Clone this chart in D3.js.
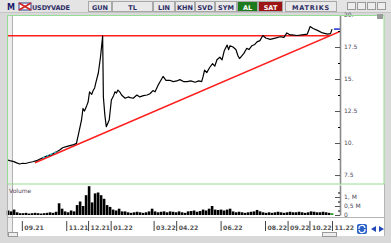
<!DOCTYPE html>
<html>
<head>
<meta charset="utf-8">
<script src="https://cdnjs.cloudflare.com/ajax/libs/d3/7.8.5/d3.min.js"></script>
<style>
  body { margin: 0; background: #d9d9d9; }
  svg { display: block; }
  text { font-family: "DejaVu Sans", Verdana, sans-serif; }
</style>
</head>
<body>
<div class="chart"></div>
<script>
// USDYVADE price chart with volume panel

// Price series (close)
var priceDates = [
  "2021-08-13", "2021-08-17", "2021-08-21", "2021-08-25", "2021-08-29", "2021-09-02",
  "2021-09-06", "2021-09-11", "2021-09-16", "2021-09-21", "2021-09-26", "2021-09-30",
  "2021-10-05", "2021-10-09", "2021-10-12", "2021-10-16", "2021-10-19", "2021-10-23",
  "2021-10-27", "2021-11-01", "2021-11-06", "2021-11-10", "2021-11-15", "2021-11-19",
  "2021-11-22", "2021-11-24", "2021-11-26", "2021-11-29", "2021-12-01", "2021-12-03",
  "2021-12-06", "2021-12-08", "2021-12-10", "2021-12-12", "2021-12-15", "2021-12-18",
  "2021-12-21", "2021-12-22", "2021-12-24", "2021-12-26", "2021-12-30", "2022-01-02",
  "2022-01-05", "2022-01-07", "2022-01-09", "2022-01-11", "2022-01-14", "2022-01-16",
  "2022-01-19", "2022-01-21", "2022-01-25", "2022-01-28", "2022-02-01", "2022-02-06",
  "2022-02-10", "2022-02-15", "2022-02-20", "2022-02-24", "2022-02-28", "2022-03-03",
  "2022-03-07", "2022-03-10", "2022-03-14", "2022-03-18", "2022-03-23", "2022-03-28",
  "2022-04-02", "2022-04-06", "2022-04-11", "2022-04-16", "2022-04-21", "2022-04-27",
  "2022-05-02", "2022-05-06", "2022-05-08", "2022-05-10", "2022-05-13", "2022-05-17",
  "2022-05-21", "2022-05-24", "2022-05-27", "2022-05-31", "2022-06-03", "2022-06-06",
  "2022-06-10", "2022-06-12", "2022-06-14", "2022-06-18", "2022-06-22", "2022-06-25",
  "2022-06-27", "2022-07-03", "2022-07-07", "2022-07-10", "2022-07-14", "2022-07-18",
  "2022-07-21", "2022-07-25", "2022-07-29", "2022-08-02", "2022-08-08", "2022-08-15",
  "2022-08-22", "2022-08-27", "2022-08-31", "2022-09-04", "2022-09-07", "2022-09-14",
  "2022-09-21", "2022-09-28", "2022-10-02", "2022-10-06", "2022-10-12", "2022-10-19",
  "2022-10-26", "2022-10-30", "2022-11-01"
];
var priceValues = [
  8.67, 8.6, 8.55, 8.45, 8.36, 8.42,
  8.40, 8.48, 8.54, 8.62, 8.75, 8.85,
  8.98, 9.05, 9.10, 9.25, 9.32, 9.45,
  9.63, 9.72, 9.80, 9.85, 9.97, 11.0,
  11.8, 12.7, 12.5, 12.9, 13.2, 14.0,
  13.8, 14.1, 14.3, 14.8, 15.45, 16.7,
  18.35, 13.6, 12.2, 11.27, 11.8, 13.36,
  13.7, 14.0, 13.9, 14.14, 13.95, 13.75,
  13.6, 13.5, 13.6, 13.55, 13.5, 13.75,
  13.6, 13.7, 13.75, 13.85, 14.1, 14.0,
  14.5, 14.8, 15.2, 14.9, 14.9, 14.8,
  14.85, 14.95, 14.8, 14.8, 14.85, 14.75,
  14.85, 14.8, 15.2, 15.7, 15.5, 15.9,
  16.2, 16.0, 16.5, 16.7, 16.5, 17.2,
  17.65, 17.3, 17.6, 17.5, 17.3, 16.8,
  16.6, 17.0, 17.4, 17.3, 17.6, 17.7,
  17.9, 18.0, 18.4, 18.2, 18.1, 18.2,
  18.3, 18.25, 18.6, 18.45, 18.45, 18.4,
  18.45, 18.5, 19.1, 18.95, 18.8, 18.6,
  18.5, 18.55, 18.9
];

// Volume (millions), one bar per ~4 days from the first to the last session
var volumeStart = "2021-08-13";
var volumeEnd = "2022-11-01";
var volumeValues = [
  0.25, 0.2, 0.3, 0.15, 0.1, 0.1, 0.12, 0.08, 0.1, 0.12,
  0.1, 0.08, 0.1, 0.12, 0.15, 0.12, 0.18, 0.65, 0.35, 0.2,
  0.15, 0.25, 0.2, 0.55, 0.75, 0.5, 1.1, 1.6, 0.7, 1.2,
  1.25, 1.1, 0.9, 0.55, 0.45, 0.3, 0.25, 0.35, 0.2, 0.2,
  0.15, 0.12, 0.15, 0.18, 0.15, 0.12, 0.15, 0.2, 0.35, 0.2,
  0.15, 0.18, 0.2, 0.15, 0.2, 0.18, 0.15, 0.2, 0.15, 0.12,
  0.2, 0.22, 0.25, 0.18, 0.22, 0.3, 0.25, 0.35, 0.5, 0.3,
  0.28, 0.3, 0.25, 0.3, 0.35, 0.2, 0.15, 0.18, 0.15, 0.12,
  0.15, 0.18, 0.2, 0.28, 0.2, 0.15, 0.12, 0.15, 0.12, 0.15,
  0.18, 0.15, 0.12, 0.15, 0.18, 0.15, 0.15, 0.18, 0.15, 0.12,
  0.15, 0.2, 0.18, 0.15, 0.15, 0.18, 0.15, 0.12, 0.1
];

// Drawn lines: horizontal resistance and rising trend
var resistanceDates = ["2021-08-13", "2022-10-29"];
var resistanceValue = 18.38;
var trendDates = ["2021-09-19", "2022-11-12"];
var trendValues = [8.46, 18.71];
var touchDates = ["2021-09-30", "2021-10-21"];

// Axis ticks
var monthTicks = ["2021-09-01", "2021-11-01", "2021-12-01", "2022-01-01", "2022-03-01",
  "2022-04-01", "2022-06-01", "2022-08-01", "2022-09-01", "2022-10-01", "2022-11-01"];
var priceTicks = [7.5, 10, 12.5, 15, 17.5, 20];
var priceTickLabels = ["7.5", "10.", "12.5", "15.", "17.5", "20."];
var priceMinorTicks = [8.75, 11.25, 13.75, 16.25, 18.75];
var volumeTicks = [0, 0.5, 1];
var volumeTickLabels = ["0", "0,5 M", "1, M"];
var volumeMinorTicks = [0.25, 0.75, 1.25];

var svgWidth = 391;
var svgHeight = 243;

var parseDate = d3.timeParse("%Y-%m-%d");

var svg = d3.select(".chart")
  .append("svg")
  .attr("width", svgWidth)
  .attr("height", svgHeight);

// ---- window frame ----
svg.append("rect").attr("width", svgWidth).attr("height", svgHeight).attr("fill", "#d9d9d9");
svg.append("rect").attr("x", 7).attr("y", 15).attr("width", 377).attr("height", 221).attr("fill", "#fff");
svg.append("rect").attr("x", 8).attr("y", 15).attr("width", 4).attr("height", 221).attr("fill", "#ececec");
svg.append("line").attr("x1", 12.5).attr("x2", 12.5).attr("y1", 15).attr("y2", 236)
  .attr("stroke", "#b0b0b0");

// ---- toolbar ----
svg.append("rect").attr("width", svgWidth).attr("height", 13).attr("fill", "#e4e4e4");
svg.append("line").attr("x1", 0).attr("x2", svgWidth).attr("y1", 12.5).attr("y2", 12.5).attr("stroke", "#c4c4c4");

var buttons = [
  { label: "GUN", x: 88, w: 24 },
  { label: "TL", x: 112, w: 41 },
  { label: "LIN", x: 153, w: 22 },
  { label: "KHN", x: 175, w: 20 },
  { label: "SVD", x: 195, w: 20 },
  { label: "SYM", x: 215, w: 22 },
  { label: "AL", x: 237, w: 21, fill: "#1d7a1d", color: "#fff" },
  { label: "SAT", x: 258, w: 25, fill: "#9c1414", color: "#fff" },
  { label: "MATRIKS", x: 285, w: 52 }
];
var btn = svg.selectAll(".btn").data(buttons).enter().append("g").attr("class", "btn");
btn.append("rect")
  .attr("x", d => d.x + 0.5).attr("y", 1.5)
  .attr("width", d => d.w - 1).attr("height", 10)
  .attr("fill", d => d.fill || "#e9e9e9")
  .attr("stroke", "#a8a8a8");
btn.append("text")
  .attr("x", d => d.x + d.w / 2).attr("y", 9.5)
  .attr("text-anchor", "middle")
  .attr("font-size", 6.5).attr("font-weight", "bold")
  .attr("letter-spacing", d => d.label === "MATRIKS" ? 0.8 : 0)
  .attr("fill", d => d.color || "#2e2e66")
  .text(d => d.label);

svg.append("text").attr("x", 7).attr("y", 10).attr("font-size", 8).attr("font-weight", "bold")
  .attr("fill", "#1c1c6c").text("M");
svg.append("rect").attr("x", 19).attr("y", 3).attr("width", 12).attr("height", 7).attr("fill", "#fff").attr("stroke", "#2a3a8a");
svg.append("path").attr("d", "M19,3 L31,10 M31,3 L19,10").attr("stroke", "#d02020").attr("stroke-width", 1.5);
svg.append("text").attr("x", 32).attr("y", 9.5).attr("font-size", 6.5).attr("font-weight", "bold")
  .attr("fill", "#2e2e66").attr("textLength", 38).text("USDYVADE");

[347, 357, 367, 377].forEach(function(bx) {
  svg.append("rect").attr("x", bx + 0.5).attr("y", 2.5).attr("width", 8).attr("height", 7)
    .attr("fill", "#ededed").attr("stroke", "#9a9a9a");
});

// ---- scales ----
var xScale = d3.scaleTime()
  .domain([parseDate("2021-08-13"), parseDate("2022-11-12")])
  .range([8, 340]);

var yScale = d3.scaleLinear()
  .domain([6.8, 20])
  .range([184, 15]);

var vScale = d3.scaleLinear()
  .domain([0, 1.667])
  .range([215, 185]);

// ---- price panel ----
svg.append("clipPath").attr("id", "plotClip")
  .append("rect").attr("x", 8).attr("y", 15).attr("width", 332).attr("height", 169);

var plot = svg.append("g").attr("clip-path", "url(#plotClip)");

var priceData = priceDates.map((d, i) => ({ date: parseDate(d), value: priceValues[i] }));

var line = d3.line()
  .x(d => xScale(d.date))
  .y(d => yScale(d.value));

plot.append("path")
  .datum(resistanceDates.map(d => ({ date: parseDate(d), value: resistanceValue })))
  .attr("d", line)
  .attr("fill", "none").attr("stroke", "#ff1e1e").attr("stroke-width", 1.5);

var trendData = trendDates.map((d, i) => ({ date: parseDate(d), value: trendValues[i] }));
plot.append("path")
  .datum(trendData)
  .attr("d", line)
  .attr("fill", "none").attr("stroke", "#ff1e1e").attr("stroke-width", 1.5);

plot.append("path")
  .datum(priceData)
  .attr("d", line)
  .attr("fill", "none").attr("stroke", "#000").attr("stroke-width", 1.2)
  .attr("stroke-linejoin", "round");

// cyan touch marks along the trend line
var trendY = d3.scaleTime().domain(trendData.map(d => d.date)).range(trendValues);
plot.append("path")
  .datum(touchDates.map(d => ({ date: parseDate(d), value: trendY(parseDate(d)) + 0.12 })))
  .attr("d", line)
  .attr("fill", "none").attr("stroke", "#22c8d8").attr("stroke-width", 1.3)
  .attr("stroke-dasharray", "2,2");

// last price marker
var last = priceData[priceData.length - 1];
svg.append("line")
  .attr("x1", xScale(last.date) + 2).attr("x2", 340)
  .attr("y1", yScale(last.value)).attr("y2", yScale(last.value))
  .attr("stroke", "#1a2fd0").attr("stroke-width", 1.5);

// price axis
var priceAxis = svg.append("g")
  .attr("transform", "translate(340, 0)")
  .call(d3.axisRight(yScale).tickValues(priceTicks).tickSize(-5).tickSizeOuter(0).tickPadding(4)
    .tickFormat((d, i) => priceTickLabels[i]));
svg.append("g")
  .attr("transform", "translate(340, 0)")
  .call(d3.axisRight(yScale).tickValues(priceMinorTicks).tickSize(-2).tickSizeOuter(0).tickFormat(""))
  .select(".domain").remove();

// ---- volume panel ----
var volStart = parseDate(volumeStart).getTime();
var volStep = (parseDate(volumeEnd).getTime() - volStart) / (volumeValues.length - 1);
var volumeData = volumeValues.map((v, i) => ({ date: new Date(volStart + i * volStep), value: v }));

svg.selectAll(".vol")
  .data(volumeData)
  .enter()
  .append("rect")
  .attr("class", "vol")
  .attr("x", d => xScale(d.date) - 1.2)
  .attr("y", d => vScale(d.value))
  .attr("width", 2.6)
  .attr("height", d => vScale(0) - vScale(d.value))
  .attr("fill", (d, i) => i === volumeData.length - 1 ? "#1fa01f" : "#000");

svg.append("text").attr("x", 9).attr("y", 193).attr("font-size", 6).attr("fill", "#55445a").text("Volume");

var volAxis = svg.append("g")
  .attr("transform", "translate(340, 0)")
  .call(d3.axisRight(vScale).tickValues(volumeTicks).tickSize(-5).tickSizeOuter(0).tickPadding(4)
    .tickFormat((d, i) => volumeTickLabels[i]));
svg.append("g")
  .attr("transform", "translate(340, 0)")
  .call(d3.axisRight(vScale).tickValues(volumeMinorTicks).tickSize(-2).tickSizeOuter(0).tickFormat(""))
  .select(".domain").remove();

// panel borders
svg.append("rect").attr("x", 7.5).attr("y", 15.5).attr("width", 376.5).attr("height", 168.5)
  .attr("fill", "none").attr("stroke", "#96dc96");
svg.append("line").attr("x1", 7).attr("x2", 384).attr("y1", 217.5).attr("y2", 217.5).attr("stroke", "#b4b4b4");
svg.append("line").attr("x1", 7.5).attr("x2", 7.5).attr("y1", 184).attr("y2", 236).attr("stroke", "#b4b4b4");
svg.append("line").attr("x1", 384.5).attr("x2", 384.5).attr("y1", 184).attr("y2", 236).attr("stroke", "#b4b4b4");
svg.append("rect").attr("x", 377).attr("y", 14).attr("width", 6).attr("height", 5).attr("fill", "#9a9a9a");

[priceAxis, volAxis].forEach(function(ax) {
  ax.select(".domain").attr("stroke", "#8a8a8a").attr("stroke-width", 1.6);
  ax.selectAll(".tick line").attr("stroke", "#555");
  ax.selectAll(".tick text").attr("font-size", 6).attr("fill", "#4a4a5a")
    .style("font-family", "\"DejaVu Sans\", Verdana, sans-serif");
});

// ---- time axis ----
var timeAxis = svg.append("g")
  .attr("transform", "translate(0, 221)")
  .call(d3.axisBottom(xScale)
    .tickValues(monthTicks.map(parseDate))
    .tickSize(10).tickSizeOuter(0)
    .tickFormat(d3.timeFormat("%m.%y")));
timeAxis.select(".domain").remove();
timeAxis.selectAll(".tick line").attr("stroke", "#444");
timeAxis.selectAll(".tick text")
  .attr("x", 2).attr("y", 9).attr("dy", 0)
  .attr("text-anchor", "start")
  .attr("font-size", 6.2).attr("font-weight", "bold").attr("fill", "#555")
  .style("font-family", "\"DejaVu Sans\", Verdana, sans-serif");

// bottom controls
svg.append("rect").attr("x", 8.5).attr("y", 232.5).attr("width", 9).attr("height", 4).attr("fill", "#eee").attr("stroke", "#999");
svg.append("rect").attr("x", 322.5).attr("y", 232.5).attr("width", 14).attr("height", 4).attr("fill", "#eee").attr("stroke", "#999");
svg.append("rect").attr("x", 357).attr("y", 224).attr("width", 10).attr("height", 10).attr("rx", 2).attr("fill", "#2b63c8");
svg.append("path").attr("d", "M359,229 A3,3 0 0 1 365,228 M365,229 A3,3 0 0 1 359,230")
  .attr("fill", "none").attr("stroke", "#fff").attr("stroke-width", 1.2);
svg.append("path").attr("d", "M376,226 L371,229 L376,232 Z M379,226 L384,229 L379,232 Z").attr("fill", "#2248b8");
</script>
</body>
</html>
